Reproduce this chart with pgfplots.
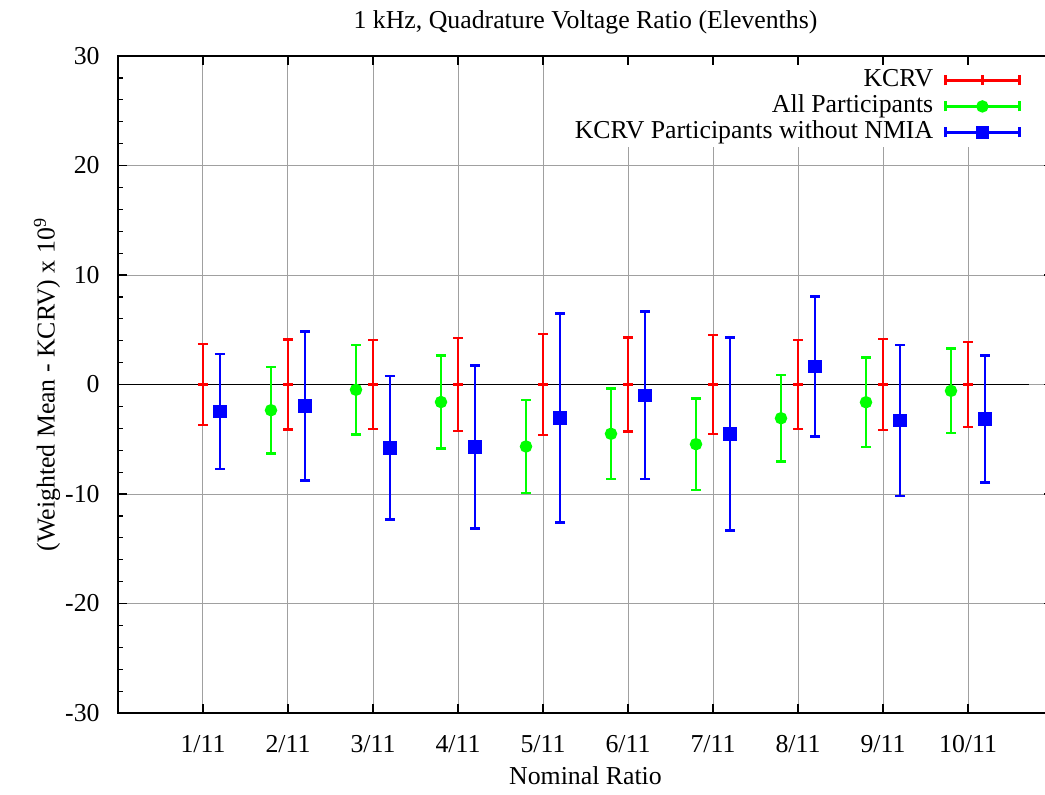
\documentclass[border=0pt]{standalone}
\usepackage{fontspec}
\setmainfont{Liberation Serif}
\usepackage{pgfplots}
\pgfplotsset{compat=1.18}
\definecolor{kred}{RGB}{255,0,0}
\definecolor{kgreen}{RGB}{0,255,0}
\definecolor{kblue}{RGB}{0,0,255}
\definecolor{gridgray}{RGB}{160,160,160}
\pgfplotsset{
  ebleg/.style={legend image code/.code={
    \draw[##1, mark=none, line width=1.2pt] (0pt,0pt) -- (37pt,0pt);
    \draw[##1, mark=none, line width=1.2pt] (0pt,-2.5pt) -- (0pt,2.5pt) (37pt,-2.5pt) -- (37pt,2.5pt);
    \draw[##1, line width=1.2pt] plot coordinates {(18.5pt,0pt)};
  }}
}
\begin{document}
\begin{tikzpicture}[font=\fontsize{12.9}{15}\selectfont]
\begin{axis}[
  at={(0,0)}, anchor=south west,
  scale only axis, width=467.5pt, height=328.5pt,
  xmin=0, xmax=11, ymin=-30, ymax=30,
  xtick={1,2,3,4,5,6,7,8,9,10},
  xticklabels={1/11,2/11,3/11,4/11,5/11,6/11,7/11,8/11,9/11,10/11},
  ytick={-30,-20,-10,0,10,20,30},
  minor y tick num=4,
  tick align=inside,
  major tick length=4.5pt, minor tick length=2.5pt,
  tick style={black, line width=0.6pt},
  axis line style={black, line width=1pt},
  grid=major,
  major grid style={gridgray, line width=0.5pt},
  /pgf/number format/assume math mode=true,
  xticklabel style={anchor=base, yshift=-19.5pt},
  yticklabel style={anchor=east, inner sep=0pt, xshift=-9pt},
  title={1 kHz, Quadrature Voltage Ratio (Elevenths)},
  title style={at={(rel axis cs:0.5,1)}, anchor=base, yshift=8pt},
  xlabel={Nominal Ratio},
  xlabel style={at={(rel axis cs:0.5,0)}, anchor=base, yshift=-35.5pt},
  ylabel={(Weighted Mean - KCRV) x 10\textsuperscript{9}},
  ylabel style={at={(axis description cs:-0.0759,0.5)}, anchor=center},
  legend plot pos=right,
  legend cell align=right,
  legend style={at={(rel axis cs:1,1)}, anchor=north east, xshift=-10pt, yshift=-4.5pt,
    draw=none, fill=white, inner xsep=6pt, inner ysep=1pt, row sep=0pt,
    nodes={inner ysep=1pt, inner xsep=5.5pt, text height=8.4pt, text depth=2.6pt}},
]
\addplot[black, line width=0.6pt, forget plot] coordinates {(0,0) (10.72,0)};
\addplot[kred, mark=+, mark size=2.5pt, only marks, line width=1.2pt, ebleg,
  error bars/.cd, y dir=both, y explicit,
  error bar style={line width=1.2pt},
  error mark options={rotate=90, mark size=2.5pt, line width=1.2pt}]
  table[x=x, y=y, y error=e] {
x y e
1 0 3.70
2 0 4.12
3 0 4.05
4 0 4.25
5 0 4.60
6 0 4.30
7 0 4.50
8 0 4.05
9 0 4.15
10 0 3.90
};
\addlegendentry{KCRV}
\addplot[kgreen, mark=*, mark size=2.5pt, only marks, line width=1.2pt, ebleg,
  error bars/.cd, y dir=both, y explicit,
  error bar style={line width=1.2pt},
  error mark options={rotate=90, mark size=2.5pt, line width=1.2pt}]
  table[x=x, y=y, y error=e] {
x y e
1.8 -2.35 3.95
2.8 -0.48 4.10
3.8 -1.60 4.25
4.8 -5.66 4.27
5.8 -4.50 4.13
6.8 -5.45 4.17
7.8 -3.08 3.95
8.8 -1.62 4.10
9.8 -0.58 3.87
};
\addlegendentry{All Participants}
\addplot[kblue, mark=square*, mark size=2.75pt, only marks, line width=1.2pt, ebleg,
  error bars/.cd, y dir=both, y explicit,
  error bar style={line width=1.2pt},
  error mark options={rotate=90, mark size=2.5pt, line width=1.2pt}]
  table[x=x, y=y, y error=e] {
x y e
1.2 -2.48 5.25
2.2 -1.95 6.80
3.2 -5.78 6.53
4.2 -5.70 7.45
5.2 -3.05 9.55
6.2 -1.00 7.65
7.2 -4.52 8.80
8.2 1.65 6.40
9.2 -3.30 6.90
10.2 -3.15 5.80
};
\addlegendentry{KCRV Participants without NMIA}
\end{axis}
\pgfresetboundingbox
\path[use as bounding box] (-59pt,-40.5pt) rectangle (463.5pt,356.5pt);
\end{tikzpicture}
\end{document}
